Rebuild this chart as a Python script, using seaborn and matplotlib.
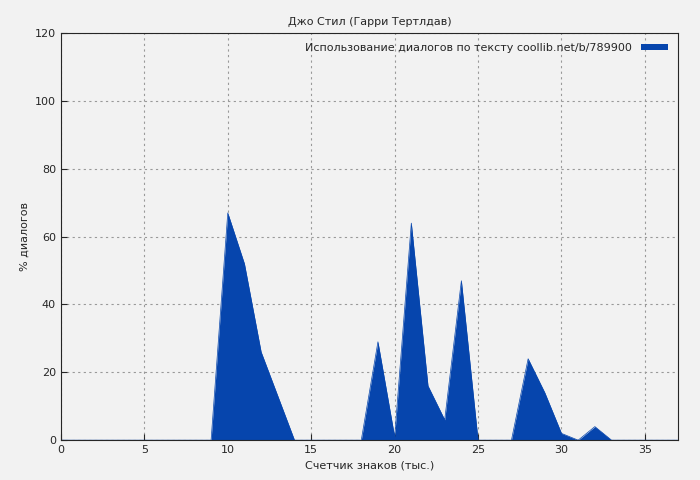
import matplotlib
matplotlib.use("Agg")
import matplotlib.pyplot as plt
import seaborn as sns
import pandas as pd

sns.set_style("ticks")
plt.rcParams['font.family'] = ['DejaVu Sans']

# chars (thousands) and share of dialogue, %
x_vals = list(range(0, 38))
y_vals = [0, 0, 0, 0, 0, 0, 0, 0, 0, 0,
          67, 52, 26, 13, 0, 0, 0, 0, 0, 29,
          1, 64, 16, 6, 47, 0, 0, 0, 24, 14,
          2, 0, 4, 0, 0, 0, 0, 0]
title = "Джо Стил (Гарри Тертлдав)"
legend_label = "Использование диалогов по тексту coollib.net/b/789900"

df = pd.DataFrame({"x": x_vals, "y": y_vals})
color = "#0645ad"

fig, ax = plt.subplots(figsize=(7, 4.8), dpi=100)
fig.patch.set_facecolor("#f2f2f2")
ax.set_facecolor("#f2f2f2")

ax.fill_between(df["x"], df["y"], color=color, linewidth=0, label=legend_label)
sns.lineplot(data=df, x="x", y="y", ax=ax, color=color, linewidth=0.5, legend=False)

ax.set_xlim(0, 37)
ax.set_ylim(0, 120)
ax.set_xticks(range(0, 36, 5))
ax.set_yticks(range(0, 121, 20))
ax.grid(True, linestyle=(0, (2, 3)), color="#999999", linewidth=0.8)
ax.tick_params(labelsize=8, direction="in", length=4)
ax.set_xlabel("Счетчик знаков (тыс.)", fontsize=8)
ax.set_ylabel("% диалогов", fontsize=8)
ax.set_title(title, fontsize=8)
ax.legend(loc="upper right", frameon=False, fontsize=8, markerfirst=False,
          handlelength=2.5, handleheight=0.4)

fig.subplots_adjust(left=0.087, right=0.969, top=0.931, bottom=0.083)
fig.savefig("out.png", dpi=100, facecolor=fig.get_facecolor())
